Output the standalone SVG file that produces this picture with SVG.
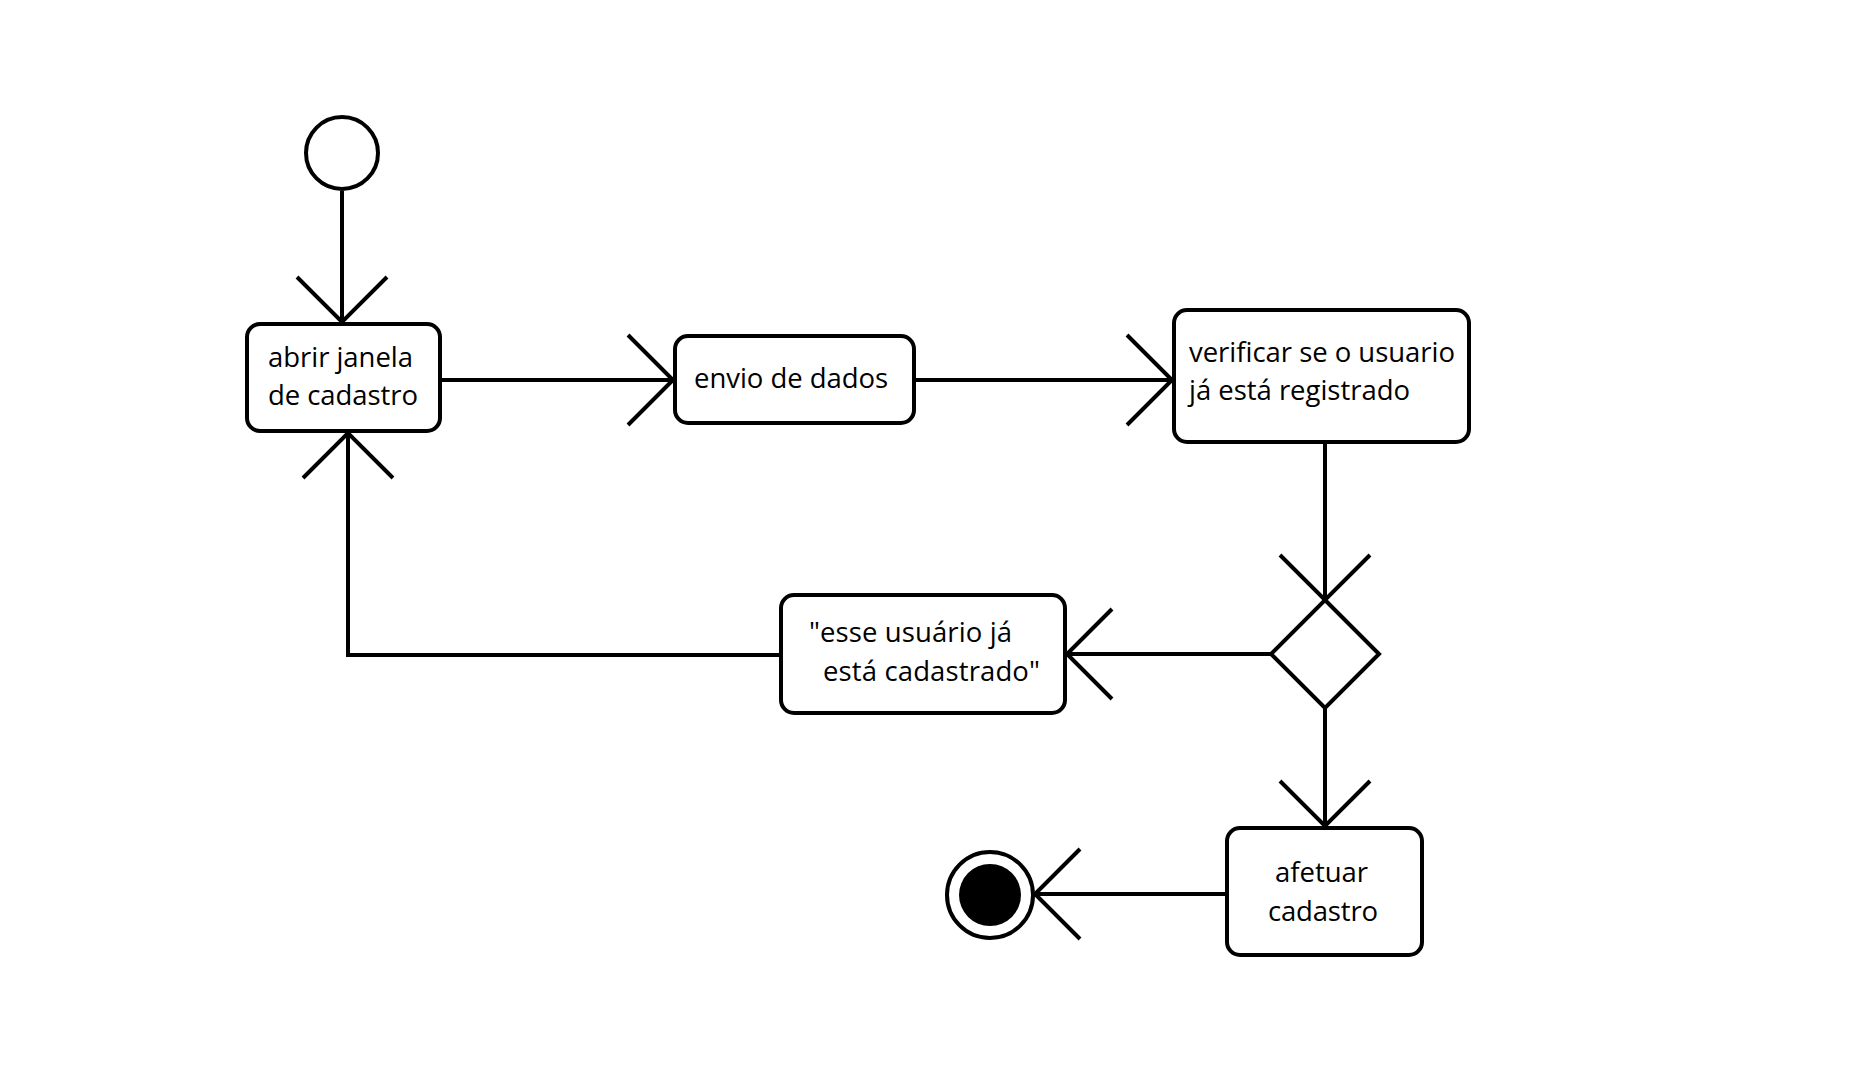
<svg xmlns="http://www.w3.org/2000/svg" width="1868" height="1092" viewBox="0 0 1868 1092">
<style>
.n{fill:#fff;stroke:#000;stroke-width:4}
.c{fill:none;stroke:#000;stroke-width:4}
.t{font-family:"Open Sans","Liberation Sans",sans-serif;font-size:27.5px;fill:#000}
</style>
<defs>
<marker id="arr" markerUnits="userSpaceOnUse" viewBox="-50 -50 60 100" refX="0" refY="0" markerWidth="60" markerHeight="100" orient="auto" overflow="visible">
<path d="M-45,-45 L0,0 L-45,45" fill="none" stroke="#000" stroke-width="4"/>
</marker>
</defs>
<rect width="1868" height="1092" fill="#fff"/>
<g id="connectors">
<line class="c" x1="342" y1="191" x2="342" y2="322" marker-end="url(#arr)"/>
<line class="c" x1="442" y1="380" x2="673" y2="380" marker-end="url(#arr)"/>
<line class="c" x1="916" y1="380" x2="1172" y2="380" marker-end="url(#arr)"/>
<line class="c" x1="1325" y1="444" x2="1325" y2="600" marker-end="url(#arr)"/>
<line class="c" x1="1271" y1="654" x2="1067" y2="654" marker-end="url(#arr)"/>
<line class="c" x1="1325" y1="708" x2="1325" y2="826" marker-end="url(#arr)"/>
<polyline class="c" points="779,655 348,655 348,433" marker-end="url(#arr)"/>
<line class="c" x1="1225" y1="894" x2="1035" y2="894" marker-end="url(#arr)"/>
</g>
<g id="start"><circle class="n" cx="342" cy="153" r="36"/></g>
<g id="abrir">
<rect class="n" x="247" y="324" width="193" height="107" rx="13"/>
<text class="t" x="268" y="367" textLength="145">abrir janela</text>
<text class="t" x="268" y="405" textLength="150">de cadastro</text>
</g>
<g id="envio">
<rect class="n" x="675" y="336" width="239" height="87" rx="13"/>
<text class="t" x="694" y="388" textLength="194">envio de dados</text>
</g>
<g id="verificar">
<rect class="n" x="1174" y="310" width="295" height="132" rx="13"/>
<text class="t" x="1189" y="362" textLength="266">verificar se o usuario</text>
<text class="t" x="1189" y="400" textLength="221">já está registrado</text>
</g>
<g id="decisao"><polygon class="n" points="1325,600 1379,654 1325,708 1271,654"/></g>
<g id="cadastrado">
<rect class="n" x="781" y="595" width="284" height="118" rx="13"/>
<text class="t" x="809" y="642" textLength="203">"esse usuário já</text>
<text class="t" x="823" y="681" textLength="217">está cadastrado"</text>
</g>
<g id="afetuar">
<rect class="n" x="1227" y="828" width="195" height="127" rx="13"/>
<text class="t" x="1275" y="882" textLength="93">afetuar</text>
<text class="t" x="1268" y="921" textLength="110">cadastro</text>
</g>
<g id="fim">
<circle cx="990" cy="895" r="43" fill="#fff" stroke="#000" stroke-width="4"/>
<circle cx="990" cy="895" r="31" fill="#000"/>
</g>
</svg>
